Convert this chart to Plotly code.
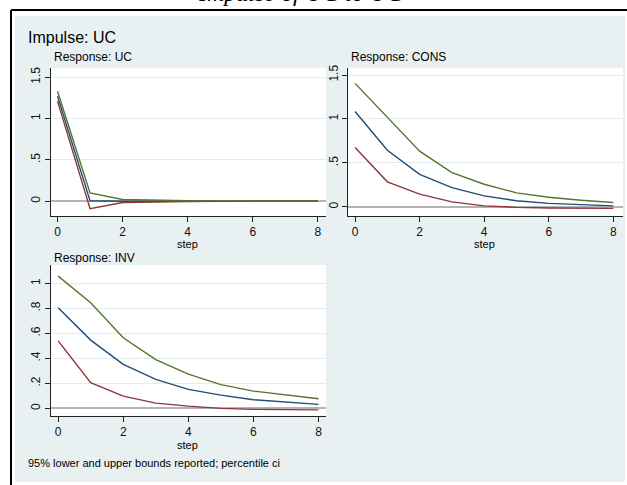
import plotly.graph_objects as go

# Impulse-response data: impulse UC, steps 0..8
steps = [0, 1, 2, 3, 4, 5, 6, 7, 8]

uc_irf = [1.27, 0.005, 0.0, 0.0, 0.0, 0.0, 0.0, 0.0, 0.0]
uc_lo = [1.21, -0.09, -0.015, -0.005, -0.003, -0.002, -0.001, -0.001, -0.001]
uc_hi = [1.33, 0.10, 0.02, 0.01, 0.006, 0.004, 0.003, 0.002, 0.002]

cons_irf = [1.086, 0.645, 0.37, 0.22, 0.125, 0.07, 0.04, 0.022, 0.012]
cons_lo = [0.676, 0.285, 0.145, 0.057, 0.012, -0.005, -0.012, -0.015, -0.017]
cons_hi = [1.405, 1.025, 0.634, 0.39, 0.258, 0.16, 0.11, 0.076, 0.05]

inv_irf = [0.805, 0.546, 0.352, 0.232, 0.152, 0.106, 0.069, 0.048, 0.032]
inv_lo = [0.54, 0.205, 0.098, 0.042, 0.018, 0.0, -0.008, -0.01, -0.012]
inv_hi = [1.058, 0.845, 0.565, 0.39, 0.274, 0.19, 0.138, 0.106, 0.077]

x_ticks = [0, 2, 4, 6, 8]
uc_yticks = [0, 0.5, 1, 1.5]
uc_ylabels = ["0", ".5", "1", "1.5"]
inv_yticks = [0, 0.2, 0.4, 0.6, 0.8, 1.0]
inv_ylabels = ["0", ".2", ".4", ".6", ".8", "1"]

W, H = 627, 485
BLUE, RED, GREEN = "#1f4e79", "#90353b", "#55752f"
BG = "#e8f0f1"
FONT = "Liberation Sans, Arial, sans-serif"


def px_x(p):
    return p / W


def px_y(p):
    return 1 - p / H


panels = [
    # (x axis id, y axis id, data, x px domain, y px domain, x range, y range, yticks, ylabels)
    ("x", "y", (uc_lo, uc_irf, uc_hi), (51, 326), (68, 215.7), [-0.2, 8.25], [-0.175, 1.61], uc_yticks, uc_ylabels),
    ("x2", "y2", (cons_lo, cons_irf, cons_hi), (348.3, 623), (68, 215.7), [-0.21, 8.3], [-0.10, 1.58], uc_yticks, uc_ylabels),
    ("x3", "y3", (inv_lo, inv_irf, inv_hi), (51, 326), (265, 415.7), [-0.22, 8.23], [-0.059, 1.147], inv_yticks, inv_ylabels),
]

fig = go.Figure()
layout_axes = {}
for xa, ya, (lo, mid, hi), (xl, xr), (yt, yb), xr_, yr_, ytv, ytl in panels:
    for vals, col in ((mid, BLUE), (lo, RED), (hi, GREEN)):
        fig.add_trace(go.Scatter(x=steps, y=vals, mode="lines", xaxis=xa, yaxis=ya,
                                 line=dict(color=col, width=1.4), showlegend=False,
                                 hoverinfo="skip"))
    xkey = "xaxis" + xa[1:]
    ykey = "yaxis" + ya[1:]
    layout_axes[xkey] = dict(
        domain=[px_x(xl), px_x(xr)], range=xr_, anchor=ya,
        tickvals=x_ticks, ticktext=[str(t) for t in x_ticks],
        showgrid=False, zeroline=False, showline=True, linecolor="#222", linewidth=1,
        ticks="outside", ticklen=5, tickcolor="#222",
        tickfont=dict(family=FONT, size=12, color="#111"),
    )
    layout_axes[ykey] = dict(
        domain=[px_y(yb), px_y(yt)], range=yr_, anchor=xa,
        tickvals=ytv, ticktext=ytl, tickangle=-90,
        showgrid=True, gridcolor="#e2ecee", gridwidth=1,
        zeroline=True, zerolinecolor="#b4b4b4", zerolinewidth=2,
        showline=True, linecolor="#222", linewidth=1,
        ticks="outside", ticklen=5, tickcolor="#222",
        tickfont=dict(family=FONT, size=12, color="#111"),
    )

annotations = [
    dict(text="Impulse: UC", x=px_x(26), y=px_y(38), xanchor="left", yanchor="middle",
         font=dict(family=FONT, size=16, color="#000")),
    dict(text="Response: UC", x=px_x(52), y=px_y(57), xanchor="left", yanchor="middle",
         font=dict(family=FONT, size=12, color="#000")),
    dict(text="Response: CONS", x=px_x(349), y=px_y(57), xanchor="left", yanchor="middle",
         font=dict(family=FONT, size=12, color="#000")),
    dict(text="Response: INV", x=px_x(52), y=px_y(258), xanchor="left", yanchor="middle",
         font=dict(family=FONT, size=12, color="#000")),
    dict(text="step", x=px_x(188), y=px_y(243.5), xanchor="center", yanchor="middle",
         font=dict(family=FONT, size=11, color="#000")),
    dict(text="step", x=px_x(484), y=px_y(243.5), xanchor="center", yanchor="middle",
         font=dict(family=FONT, size=11, color="#000")),
    dict(text="step", x=px_x(188), y=px_y(444.5), xanchor="center", yanchor="middle",
         font=dict(family=FONT, size=11, color="#000")),
    dict(text="95% lower and upper bounds reported; percentile ci", x=px_x(26), y=px_y(463),
         xanchor="left", yanchor="middle", font=dict(family=FONT, size=11, color="#000")),
    dict(text="<i>Impulse of UC to UC</i>", x=px_x(301), y=px_y(8), xanchor="center",
         yanchor="bottom", font=dict(family="Liberation Serif, Times New Roman, serif", size=24, color="#000")),
]
for a in annotations:
    a.update(xref="paper", yref="paper", showarrow=False)

no_line = dict(width=0, color="rgba(0,0,0,0)")
shapes = [
    # white page around the graph region
    dict(type="rect", x0=0, x1=1, y0=px_y(16), y1=1, fillcolor="white", line=no_line),
    dict(type="rect", x0=0, x1=px_x(15), y0=0, y1=1, fillcolor="white", line=no_line),
    dict(type="rect", x0=px_x(625), x1=1, y0=0, y1=1, fillcolor="white", line=no_line),
    dict(type="rect", x0=0, x1=1, y0=0, y1=px_y(482), fillcolor="white", line=no_line),
    # black frame lines
    dict(type="line", x0=px_x(11), x1=1, y0=px_y(10), y1=px_y(10), line=dict(color="black", width=2)),
    dict(type="line", x0=px_x(11), x1=px_x(11), y0=0, y1=px_y(10), line=dict(color="black", width=2)),
]
for s in shapes:
    s.update(xref="paper", yref="paper", layer="below")

fig.update_layout(
    width=W, height=H, margin=dict(l=0, r=0, t=0, b=0, autoexpand=False),
    paper_bgcolor=BG, plot_bgcolor="white",
    annotations=annotations, shapes=shapes,
    **layout_axes,
)

fig.write_html("out.html")
